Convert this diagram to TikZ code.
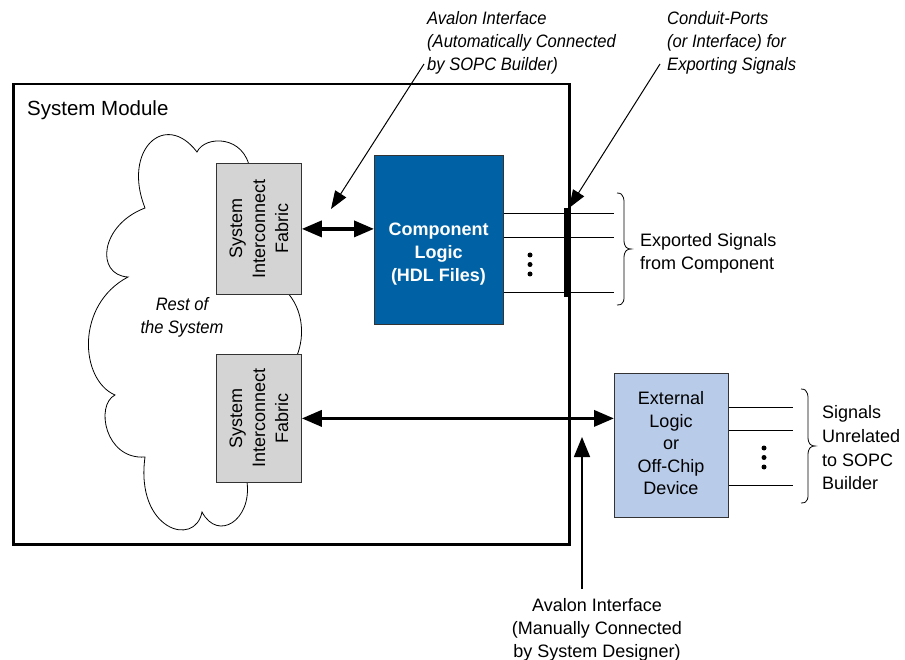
\documentclass[tikz,border=0pt]{standalone}
\usepackage{fontspec}
\setmainfont{Liberation Sans}
\newfontfamily\narrowfont[FakeStretch=0.92]{Liberation Sans}
\usetikzlibrary{arrows.meta}
\definecolor{clblue}{HTML}{0062A4}
\definecolor{sifgray}{HTML}{D4D4D4}
\definecolor{extblue}{HTML}{B8CBE9}
\definecolor{edge}{HTML}{333333}
\tikzset{
  box/.style={draw=edge, line width=0.8pt, inner sep=0pt, anchor=north west},
  dbl/.style={line width=3.5pt, {Triangle[length=20pt,width=16pt]}-{Triangle[length=20pt,width=16pt]}},
  note/.style={line width=1pt, -{Triangle[length=18pt,width=13pt]}},
  notebig/.style={line width=1.5pt, -{Triangle[length=20pt,width=16pt]}},
  sig/.style={line width=0.9pt},
  brace/.style={line width=0.8pt},
  cloudline/.style={line width=0.8pt},
  txt/.style={inner sep=0pt, font=\fontsize{18}{23}\selectfont},
  itxt/.style={inner sep=0pt, font=\narrowfont\itshape\fontsize{18}{23}\selectfont},
  dot/.style={circle, fill=black, inner sep=0pt, minimum size=5pt},
}
\begin{document}
\begin{tikzpicture}[x=1pt,y=-1pt]
\useasboundingbox[fill=white] (0,0) rectangle (905,660);
% system module
\node[draw=black, line width=2.5pt, inner sep=0pt, anchor=north west, minimum width=556pt, minimum height=460pt] (sysmod) at (12,83) {};
\node[txt, anchor=north west, font=\fontsize{20.5}{24}\selectfont] (sysmodlbl) at (27,100) {System Module};
% cloud
\draw[cloudline] (128,277) .. controls (95,275) and (100,225) .. (145,208)
 .. controls (122,150) and (165,110) .. (197,152)
 .. controls (205,135) and (245,135) .. (250,170)
 -- (285,290) .. controls (305,310) and (305,340) .. (295,360)
 -- (247,482) .. controls (252,520) and (218,542) .. (202,512)
 .. controls (195,548) and (135,530) .. (145,457)
 .. controls (105,460) and (95,405) .. (115,395)
 .. controls (80,380) and (75,305) .. (128,277) -- cycle;
\node[itxt, anchor=north, align=center] (rest) at (182,297.5) {Rest of\\the System};
% boxes
\node[box, fill=sifgray, minimum width=85pt, minimum height=131pt] (sif1) at (216,163) {};
\node[box, fill=sifgray, minimum width=85pt, minimum height=128pt] (sif2) at (216,354) {};
\node[box, fill=clblue, minimum width=129pt, minimum height=169pt] (cl) at (374,155) {};
\node[box, fill=extblue, minimum width=114pt, minimum height=144pt] (ext) at (614,373) {};
\node[txt, rotate=90, align=center] (sif1txt) at (sif1.center) {System\\Interconnect\\Fabric};
\node[txt, rotate=90, align=center] (sif2txt) at (sif2.center) {System\\Interconnect\\Fabric};
\node[txt, anchor=north, align=center, text=white, font=\bfseries\fontsize{18}{23}\selectfont] (cltxt) at (438.5,222.5) {Component\\Logic\\(HDL Files)};
\node[txt, anchor=north, align=center, font=\fontsize{18}{22.5}\selectfont] (exttxt) at (671,391.5) {External\\Logic\\or\\Off-Chip\\Device};
% component signals
\coordinate (s1) at (614,213);
\coordinate (s2) at (614,237);
\coordinate (s3) at (614,292);
\draw[sig] (cl.east |- s1) -- (s1);
\draw[sig] (cl.east |- s2) -- (s2);
\draw[sig] (cl.east |- s3) -- (s3);
\node[dot] (d1) at (530,255) {};
\node[dot] (d2) at (530,264.5) {};
\node[dot] (d3) at (530,274) {};
\node[fill=black, inner sep=0pt, minimum width=4pt, minimum height=89pt] (conduit) at (566,252.5) {};
% external signals
\coordinate (e1) at (793,407);
\coordinate (e2) at (793,430);
\coordinate (e3) at (793,485);
\draw[sig] (ext.east |- e1) -- (e1);
\draw[sig] (ext.east |- e2) -- (e2);
\draw[sig] (ext.east |- e3) -- (e3);
\node[dot] (d4) at (764,448) {};
\node[dot] (d5) at (764,457.5) {};
\node[dot] (d6) at (764,467) {};
% braces
\draw[brace] (617,193) .. controls (625,193) and (624,200) .. (624,210) -- (624,240)
  .. controls (624,247) and (627,249) .. (631,249) .. controls (627,249) and (624,251) .. (624,258)
  -- (624,290) .. controls (624,300) and (625,305) .. (617,305);
\draw[brace] (801,389) .. controls (809,389) and (808,396) .. (808,406) -- (808,437)
  .. controls (808,444) and (811,446) .. (815,446) .. controls (811,446) and (808,448) .. (808,455)
  -- (808,488) .. controls (808,498) and (809,503) .. (801,503);
\node[txt, anchor=north west, align=left] (explbl) at (640,233.5) {Exported Signals\\from Component};
\node[txt, anchor=north west, align=left, font=\fontsize{18}{23.7}\selectfont] (unrel) at (822,405.5) {Signals\\Unrelated\\to SOPC\\Builder};
% interface arrows
\draw[dbl] (sif1.east) -- (sif1.east -| cl.west);
\draw[dbl] (sif2.east) -- (sif2.east -| ext.west);
% annotations
\node[itxt, anchor=north west, align=left] (avauto) at (427,11.5) {Avalon Interface\\(Automatically Connected\\by SOPC Builder)};
\node[itxt, anchor=north west, align=left] (condlbl) at (667,11.5) {Conduit-Ports\\(or Interface) for\\Exporting Signals};
\coordinate (avstart) at (424,64);
\coordinate (avtip) at (331,209);
\draw[note] (avstart) -- (avtip);
\coordinate (cdstart) at (660,64);
\coordinate (cdtip) at (569,208);
\draw[note] (cdstart) -- (cdtip);
\node[txt, anchor=north, align=center] (avman) at (597,598.5) {Avalon Interface\\(Manually Connected\\by System Designer)};
\coordinate (mstart) at (582,589);
\coordinate (mtip) at (582,437);
\draw[notebig] (mstart) -- (mtip);
\end{tikzpicture}
\end{document}
